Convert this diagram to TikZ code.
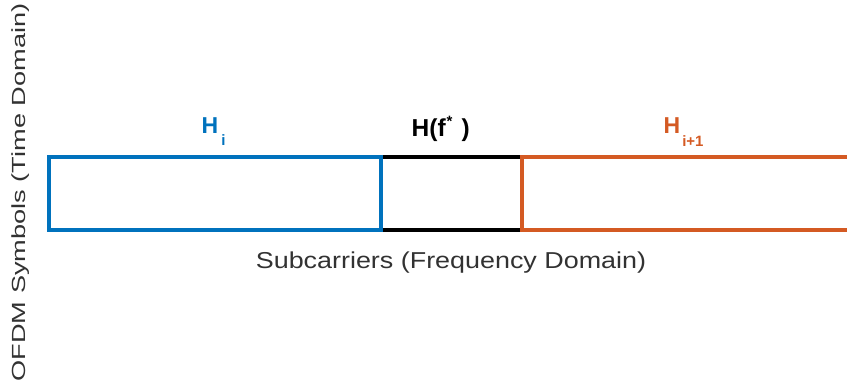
\documentclass[tikz,border=0pt]{standalone}
\usepackage{fontspec}
\setmainfont{Liberation Sans}
\usetikzlibrary{backgrounds}
\definecolor{mblue}{RGB}{0,114,189}
\definecolor{morange}{RGB}{212,90,35}
\definecolor{labelgray}{RGB}{50,50,50}
\tikzset{
  band/.style={draw, line width=3.6pt, inner sep=0pt, outer sep=0pt,
    minimum height=73pt, anchor=north west},
  axislabel/.style={text=labelgray, inner sep=0pt, font=\fontsize{23}{23}\selectfont},
  hlabel/.style={inner sep=0pt, anchor=base west, font=\bfseries\fontsize{23}{23}\selectfont}
}
\begin{document}
\begin{tikzpicture}[x=1pt, y=-1pt]
  \useasboundingbox (0,0) rectangle (847,389);

  % channel blocks along the subcarrier axis
  \node[band, draw=mblue, minimum width=332pt] (hi) at (49,157) {};
  \node[band, draw=morange, minimum width=340pt] (hnext) at (522,157) {};
  \begin{scope}[on background layer]
    \draw[line width=3.6pt] (hi.north east) -- (hnext.north west);
    \draw[line width=3.6pt] (hi.south east) -- (hnext.south west);
  \end{scope}

  % block labels
  \node[hlabel, text=mblue] (lhi) at (201.5,133.5)
    {H\kern3pt\raisebox{-11.5pt}{\fontsize{15}{15}\selectfont i}};
  \node[hlabel, font=\bfseries\fontsize{24.5}{24.5}\selectfont] (lf) at (411.5,136.5)
    {H(f\kern1pt\raisebox{10pt}{\fontsize{15}{15}\selectfont *}\kern9pt)};
  \node[hlabel, text=morange] (lnext) at (663.5,133.5)
    {H\kern2pt\raisebox{-12.5pt}{\fontsize{15}{15}\selectfont i+1}};

  % axis labels
  \node[axislabel, anchor=base] (xlab) at (451,268)
    {\scalebox{1.17}[1]{Subcarriers (Frequency Domain)}};
  \node[axislabel, anchor=base, rotate=90, font=\fontsize{19}{19}\selectfont] (ylab) at (25.5,192.5)
    {\scalebox{1.43}[1]{OFDM Symbols (Time Domain)}};
\end{tikzpicture}
\end{document}
